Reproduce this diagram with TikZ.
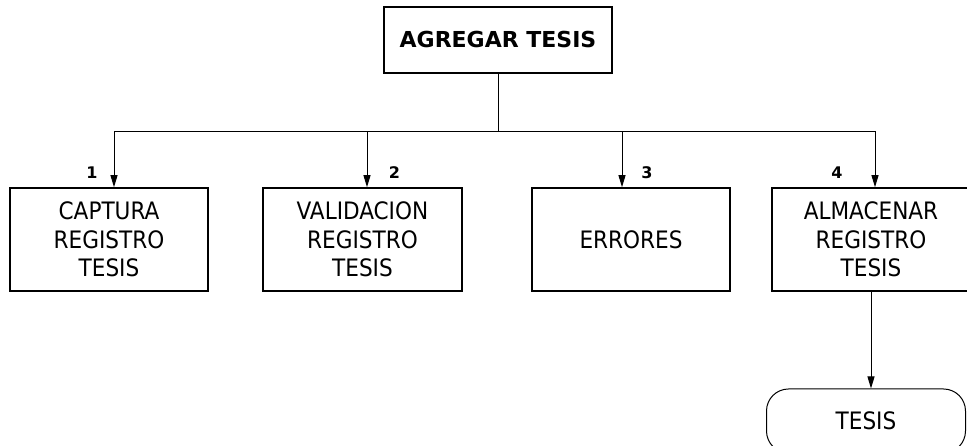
\documentclass[tikz,border=0pt]{standalone}
\usepackage{fontspec}
\setmainfont{DejaVu Sans Condensed}
\newfontfamily\anchafont{DejaVu Sans}
\usetikzlibrary{arrows.meta, positioning, calc}

\begin{document}
\begin{tikzpicture}[x=1pt, y=1pt, >={Triangle[length=12pt, width=7pt]},
  font=\fontsize{24}{28.5}\selectfont,
  caja/.style={draw, line width=1.6pt, minimum width=198pt, minimum height=103pt, align=center, inner sep=0pt},
  num/.style={font=\anchafont\fontsize{16}{18}\selectfont\bfseries},
  flecha/.style={line width=1pt, ->}]
  \useasboundingbox (0,0) rectangle (967,446);

  % Modulo principal
  \node[caja, minimum width=228pt, minimum height=66pt, font=\anchafont\fontsize{22}{28}\selectfont\bfseries] (agregar) at (498,406) {AGREGAR TESIS};

  % Submodulos
  \node[caja] (captura) at (109,206.5) {CAPTURA\\REGISTRO\\TESIS};
  \node[caja, minimum width=199pt] (validacion) at (362.5,206.5) {VALIDACION\\REGISTRO\\TESIS};
  \node[caja] (errores) at (631,206.5) {ERRORES};
  \node[caja] (almacenar) at (871,206.5) {ALMACENAR\\REGISTRO\\TESIS};

  % Numeracion
  \node[num] (n1) at ([xshift=-17pt, yshift=15pt]captura.north) {1};
  \node[num] (n2) at ([xshift=32pt, yshift=15pt]validacion.north) {2};
  \node[num] (n3) at ([xshift=16pt, yshift=15pt]errores.north) {3};
  \node[num] (n4) at ([xshift=-34pt, yshift=15pt]almacenar.north) {4};

  % Archivo de tesis
  \node[draw, line width=1pt, rounded corners=22pt, minimum width=199pt, minimum height=64pt] (tesis) at (866,25) {TESIS};

  % Conexiones
  \coordinate (bus) at (498,314);
  \draw[line width=1pt] (agregar.south) -- (bus);
  \draw[flecha] (bus) -| ([xshift=5pt]captura.north);
  \draw[flecha] (bus) -| ([xshift=4.5pt]validacion.north);
  \draw[flecha] (bus) -| ([xshift=-9pt]errores.north);
  \draw[flecha] (bus) -| ([xshift=4pt]almacenar.north);
  \draw[flecha] (almacenar.south) -- (almacenar.south |- tesis.north);
\end{tikzpicture}
\end{document}
